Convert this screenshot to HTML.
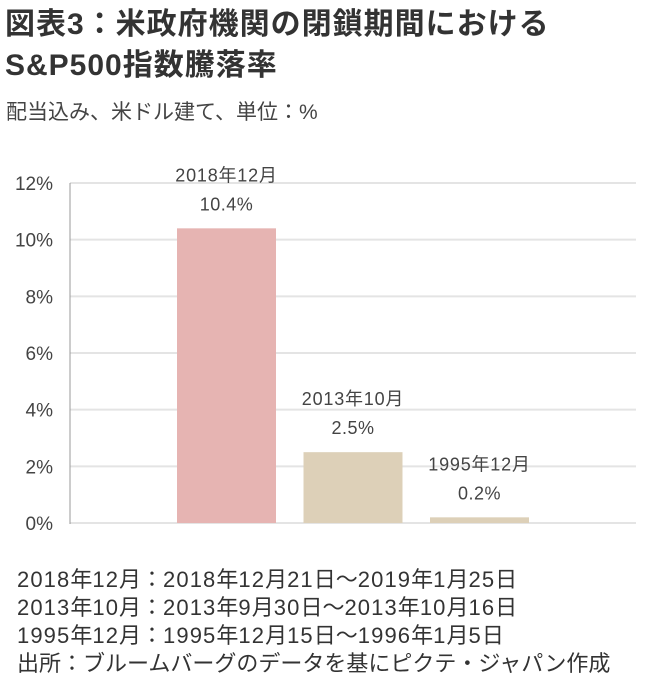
<!DOCTYPE html>
<html><head><meta charset="utf-8"><style>
body{margin:0;width:654px;height:687px;background:#fff;overflow:hidden;font-family:"Liberation Sans","Noto Sans CJK JP",sans-serif;color:#333}
.t{position:absolute;white-space:nowrap}
.d{letter-spacing:1.1px}
</style></head><body>
<div class="t" style="left:5px;top:4px;font-size:30px;letter-spacing:1px;font-weight:bold;line-height:41px;color:#333">図表3：米政府機関の閉鎖期間における<br>S&amp;P500指数騰落率</div>
<div class="t" style="left:6px;top:96px;font-size:21px;color:#444">配当込み、米ドル建て、単位：%</div>
<svg id="c" width="654" height="560" style="position:absolute;left:0;top:0"></svg>
<div class="t" style="left:17px;top:566px;font-size:22px;line-height:28px;color:#333"><span class="d">2018</span>年<span class="d">12</span>月：<span class="d">2018</span>年<span class="d">12</span>月<span class="d">21</span>日～<span class="d">2019</span>年<span class="d">1</span>月<span class="d">25</span>日<br><span class="d">2013</span>年<span class="d">10</span>月：<span class="d">2013</span>年<span class="d">9</span>月<span class="d">30</span>日～<span class="d">2013</span>年<span class="d">10</span>月<span class="d">16</span>日<br><span class="d">1995</span>年<span class="d">12</span>月：<span class="d">1995</span>年<span class="d">12</span>月<span class="d">15</span>日～<span class="d">1996</span>年<span class="d">1</span>月<span class="d">5</span>日<br>出所：ブルームバーグのデータを基にピクテ・ジャパン作成</div>
<script>
const categories=["2018年12月","2013年10月","1995年12月"];
const values=[10.4,2.5,0.2];
const valueLabels=["10.4%","2.5%","0.2%"];
const ticks=[0,2,4,6,8,10,12];
const colors=["#e6b4b2","#ddd0b8","#ddd0b8"];
const svg=document.getElementById('c');
const NS="http://www.w3.org/2000/svg";
const y=v=>523-v*(340/12);
const x=i=>177+i*126.5;
const bw=99;
function mk(t,a,txt){const e=document.createElementNS(NS,t);for(const k in a)e.setAttribute(k,a[k]);if(txt!=null)e.textContent=txt;svg.appendChild(e);return e;}
ticks.forEach(t=>{
 const g=mk('line',{x1:70,x2:636,y1:y(t),y2:y(t),stroke:'#e4e4e4','stroke-width':2});
 
 
 const l=mk('text',{x:53,y:y(t)+7,'text-anchor':'end','font-size':19,fill:'#444'},t+'%');
 
 
});
const ax=mk('line',{x1:70,x2:70,y1:183,y2:524,stroke:'#999','stroke-width':1});


values.forEach((v,i)=>{
 const r=mk('rect',{x:x(i),y:y(v),width:bw,height:y(0)-y(v),fill:colors[i]});
 
 
 const cx=x(i)+bw/2;
 const a=mk('text',{x:cx,y:y(v)-47,'text-anchor':'middle','font-size':18,'letter-spacing':0.8,fill:'#444'},categories[i]);
 
 
 const b=mk('text',{x:cx,y:y(v)-18,'text-anchor':'middle','font-size':18,'letter-spacing':0.5,fill:'#444'},valueLabels[i]);
 
 
});
</script>
</body></html>
